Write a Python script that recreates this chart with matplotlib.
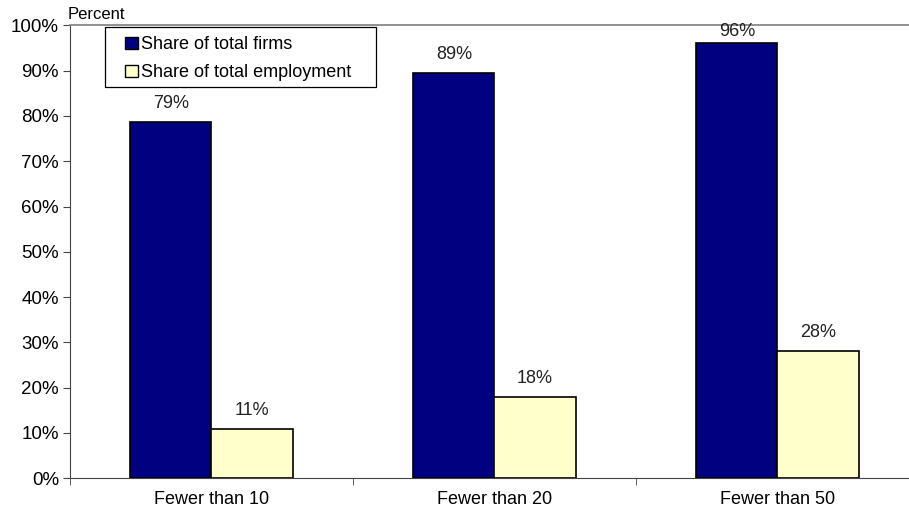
import matplotlib.pyplot as plt
from matplotlib.patches import Rectangle
import numpy as np

plt.rcParams['font.family'] = ['Liberation Sans', 'DejaVu Sans']

categories = ['Fewer than 10', 'Fewer than 20', 'Fewer than 50']
firms = [78.6, 89.4, 96.2]
employment = [10.8, 18.0, 28.2]
series_names = ['Share of total firms', 'Share of total employment']

fig = plt.figure(figsize=(9.09, 5.17), dpi=100)
ax = fig.add_axes([0.077, 0.0749, 0.934, 0.876])

x = np.arange(len(categories))
w = 0.287
b1 = ax.bar(x - w / 2, firms, w, color='#000080', edgecolor='black', linewidth=1.2,
            label=series_names[0])
b2 = ax.bar(x + w / 2, employment, w, color='#FFFFCC', edgecolor='black', linewidth=1.2,
            label=series_names[1])

# value labels sit just above each bar, kept under the top border
for bars, vals in ((b1, firms), (b2, employment)):
    for r, v in zip(bars, vals):
        ax.text(r.get_x() + r.get_width() / 2, min(v + 2.2, 96.7), f'{v:.0f}%',
                ha='center', va='bottom', fontsize=13, color='#222222')

ax.set_xlim(-0.5, 2.5)
ax.set_ylim(0, 100)
ax.set_yticks(np.arange(0, 101, 10))
ax.set_yticklabels([f'{t}%' for t in range(0, 101, 10)], fontsize=13.5)
ax.set_xticks(x)
ax.set_xticklabels(categories, fontsize=13)
ax.set_xticks([-0.5, 0.5, 1.5, 2.5], minor=True)
ax.tick_params(axis='x', which='major', length=0, pad=9)
ax.tick_params(axis='x', which='minor', length=5, direction='out', color='#444444')
ax.tick_params(axis='y', length=5, direction='out', color='#444444', pad=3)

ax.spines['top'].set_color('#888888')
ax.spines['top'].set_linewidth(1.3)
ax.spines['right'].set_visible(False)
ax.spines['left'].set_color('#444444')
ax.spines['bottom'].set_color('#444444')

ax.text(-0.003, 1.008, 'Percent', transform=ax.transAxes, fontsize=12,
        ha='left', va='bottom')

# legend box drawn separately so its padding is wider than the entries
ax.add_patch(Rectangle((0.0412, 0.864), 0.319, 0.1325, transform=ax.transAxes,
                       facecolor='white', edgecolor='black', linewidth=0.9,
                       zorder=4))
leg = ax.legend(loc='upper left', bbox_to_anchor=(0.0648, 0.976), fontsize=13,
                frameon=False, handlelength=0.7, handleheight=0.7,
                handletextpad=0.2, borderpad=0, labelspacing=0.62,
                borderaxespad=0)
leg.set_zorder(5)
for h in leg.legend_handles:
    h.set_linewidth(1.0)

fig.savefig('out.png', dpi=100)
